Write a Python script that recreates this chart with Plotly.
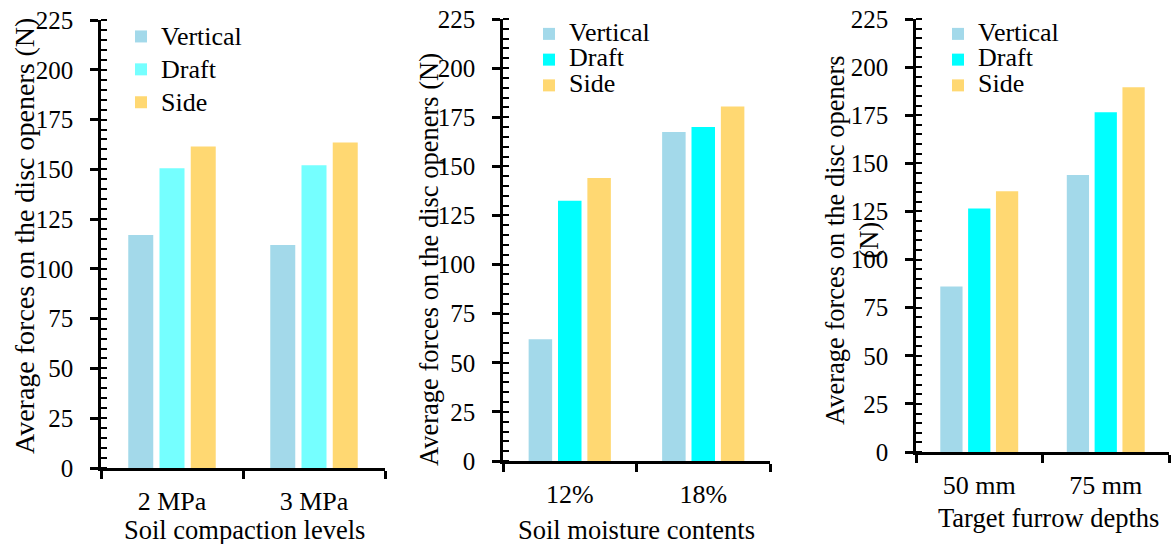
import plotly.graph_objects as go

# ---------------- data ----------------
series_names = ["Vertical", "Draft", "Side"]

compaction_levels = ["2 MPa", "3 MPa"]
compaction_vertical = [117, 112]
compaction_draft = [150.5, 152]
compaction_side = [161.5, 163.5]

moisture_levels = ["12%", "18%"]
moisture_vertical = [62, 167.5]
moisture_draft = [132.5, 170]
moisture_side = [144, 180.5]

depth_levels = ["50 mm", "75 mm"]
depth_vertical = [86, 144]
depth_draft = [126.5, 176.5]
depth_side = [135.5, 189.5]

y_title = "Average forces on the disc openers (N)"
x_titles = ["Soil compaction levels", "Soil moisture contents", "Target furrow depths"]

# ---------------- style ----------------
W, H = 1172, 544
FONT = "Liberation Serif"
C_VERT = "#A3D9EA"
C_DRAFT_1 = "#75FFFF"
C_DRAFT = "#00FFFF"
C_SIDE = "#FFD872"

# panel pixel boxes: (left, right, top, bottom)
boxes = [(101, 385, 20, 468), (503, 770, 19, 461), (916, 1169, 19, 452)]

def px_x(v):
    return v / W

def px_y(v):
    return 1 - v / H

fig = go.Figure()

panels = [
    (compaction_levels, [compaction_vertical, compaction_draft, compaction_side], [C_VERT, C_DRAFT_1, C_SIDE]),
    (moisture_levels, [moisture_vertical, moisture_draft, moisture_side], [C_VERT, C_DRAFT, C_SIDE]),
    (depth_levels, [depth_vertical, depth_draft, depth_side], [C_VERT, C_DRAFT, C_SIDE]),
]

legend_names = ["legend", "legend2", "legend3"]
legend_font_sizes = [23, 17.5, 17.5]

for i, (cats, vals, cols) in enumerate(panels):
    xa = "x" if i == 0 else f"x{i+1}"
    ya = "y" if i == 0 else f"y{i+1}"
    for name, v, c in zip(series_names, vals, cols):
        fig.add_trace(go.Bar(
            x=cats, y=v,
            name=f'<span style="font-size:26px;font-family:Liberation Serif">{name}</span>',
            marker=dict(color=c, line=dict(width=0)),
            xaxis=xa, yaxis=ya, legend=legend_names[i],
        ))

layout = dict(
    width=W, height=H,
    margin=dict(l=0, r=0, t=0, b=0, pad=0, autoexpand=False),
    paper_bgcolor="white", plot_bgcolor="white",
    barmode="group", bargap=0.34, bargroupgap=0.2,
    font=dict(family=FONT, color="black"),
    showlegend=True,
)

legend_pos = [(121, 15), (529, 16), (938, 16)]

annotations = []
for i, (l, r, t, b) in enumerate(boxes):
    n = "" if i == 0 else str(i + 1)
    xdom = [px_x(l), px_x(r)]
    ydom = [px_y(b), px_y(t)]
    layout[f"xaxis{n}"] = dict(
        domain=xdom, anchor=f"y{n}", type="category",
        categoryarray=panels[i][0], categoryorder="array",
        range=[-0.5, 1.5], automargin=False,
        showline=True, linecolor="black", linewidth=2.7,
        ticks="outside", tickson="boundaries", ticklen=8, tickwidth=2.5, tickcolor="black",
        tickfont=dict(family=FONT, size=26, color="black"),
        ticklabelstandoff=8,
        showgrid=False, zeroline=False,
    )
    layout[f"yaxis{n}"] = dict(
        domain=ydom, anchor=f"x{n}", range=[0, 225], automargin=False,
        dtick=25, tick0=0,
        showline=True, linecolor="black", linewidth=2.7,
        ticks="outside", ticklen=8, tickwidth=2.5, tickcolor="black",
        minor=dict(dtick=5, ticks="inside", ticklen=6, tickwidth=2, tickcolor="black"),
        tickfont=dict(family=FONT, size=25, color="black"),
        ticklabelstandoff=12,
        showgrid=False, zeroline=False,
    )
    # overlay axes giving the inner half of the crossing major ticks
    k = i + 4
    layout[f"yaxis{k}"] = dict(
        overlaying=f"y{n}", anchor=f"x{n}", range=[0, 225], dtick=25, tick0=0,
        automargin=False,
        ticks="inside", ticklen=8, tickwidth=2.5, tickcolor="black",
        showticklabels=False, showline=False, showgrid=False, zeroline=False,
    )
    layout[f"xaxis{k}"] = dict(
        overlaying=f"x{n}", anchor=f"y{n}", type="linear", range=[-0.5, 1.5],
        automargin=False,
        tickvals=[-0.5, 0.5, 1.5],
        ticks="inside", ticklen=8, tickwidth=2.5, tickcolor="black",
        showticklabels=False, showline=False, showgrid=False, zeroline=False,
    )
    lx, ly = legend_pos[i]
    layout[legend_names[i]] = dict(
        x=px_x(lx), y=px_y(ly), xanchor="left", yanchor="top",
        bgcolor="rgba(0,0,0,0)", borderwidth=0,
        font=dict(family=FONT, size=legend_font_sizes[i], color="black"),
        traceorder="normal",
    )

# axis titles
title_specs = [
    # (text, x_center_px, y_center_px, size)
    (y_title, 24, 236, 28),
    (y_title, 429, 260, 26.5),
    ("Average forces on the disc openers<br>(N)", 852, 240, 26.5),
]
for text, xc, yc, sz in title_specs:
    annotations.append(dict(
        text=text, x=px_x(xc), y=px_y(yc), xref="paper", yref="paper",
        xanchor="center", yanchor="middle", textangle=-90, showarrow=False,
        font=dict(family=FONT, size=sz, color="black"),
    ))

xt_specs = [(x_titles[0], 244, 530), (x_titles[1], 636, 530), (x_titles[2], 1048, 518)]
for text, xc, yc in xt_specs:
    annotations.append(dict(
        text=text, x=px_x(xc), y=px_y(yc), xref="paper", yref="paper",
        xanchor="center", yanchor="middle", showarrow=False,
        font=dict(family=FONT, size=26.5, color="black"),
    ))

layout["annotations"] = annotations
fig.update_layout(**layout)

fig.write_html("out.html")
